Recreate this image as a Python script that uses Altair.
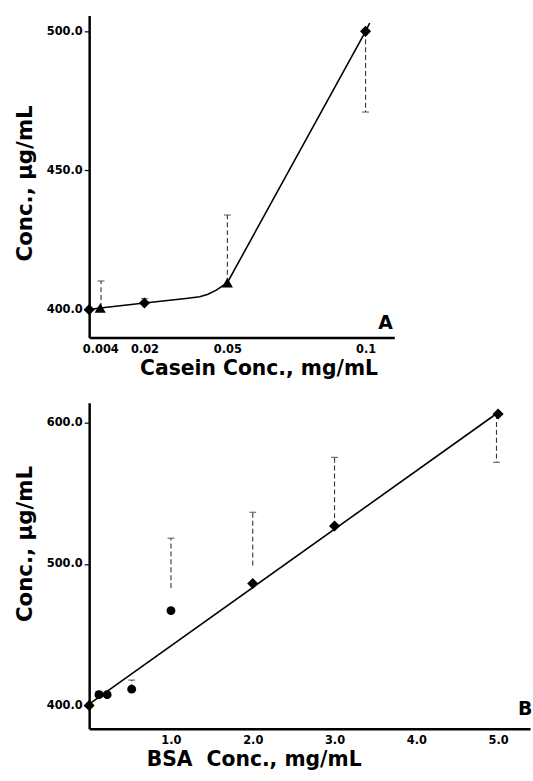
import altair as alt
import pandas as pd

# ---------------- Panel A (casein) ----------------
casein_x = [0.0, 0.004, 0.02, 0.05, 0.1]
casein_y = [400.0, 400.6, 402.4, 409.7, 500.0]
casein_shape = ["diamond", "triangle-up", "diamond", "triangle-up", "diamond"]

casein_err_x = [0.0043, 0.02, 0.05, 0.1]
casein_err_from = [400.6, 402.4, 409.7, 500.0]
casein_err_to = [410.3, 404.0, 434.0, 471.0]

casein_fit_x = [0.0, 0.004, 0.02, 0.035, 0.04, 0.043, 0.046, 0.05, 0.1, 0.1015]
casein_fit_y = [400.0, 400.6, 402.4, 404.0, 404.6, 405.5, 407.0, 409.7, 500.0, 503.0]

# ---------------- Panel B (BSA) ----------------
bsa_x = [0.0, 0.12, 0.22, 0.52, 1.0, 2.0, 3.0, 5.0]
bsa_y = [400.0, 407.7, 407.7, 411.6, 467.1, 486.2, 526.8, 605.9]
bsa_shape = ["diamond", "circle", "circle", "circle", "circle", "diamond", "diamond", "diamond"]

bsa_err_x = [0.12, 0.52, 1.0, 2.0, 3.0, 4.98]
bsa_err_from = [407.7, 411.6, 483.0, 499.0, 526.8, 605.9]
bsa_err_to = [410.0, 418.0, 518.2, 536.5, 575.3, 571.8]

bsa_fit_x = [0.0, 5.0]
bsa_fit_y = [401.0, 607.0]

panel_text = ["A", "B"]
panel_x = [0.1072, 5.33]
panel_y = [395.0, 397.5]

FONT = "DejaVu Sans"

pts_a = pd.DataFrame({"x": casein_x, "y": casein_y, "shape": casein_shape})
err_a = pd.DataFrame({"x": casein_err_x, "y": casein_err_from, "y2": casein_err_to})
fit_a = pd.DataFrame({"x": casein_fit_x, "y": casein_fit_y})
lab_a = pd.DataFrame({"x": [panel_x[0]], "y": [panel_y[0]], "t": [panel_text[0]]})

pts_b = pd.DataFrame({"x": bsa_x, "y": bsa_y, "shape": bsa_shape})
err_b = pd.DataFrame({"x": bsa_err_x, "y": bsa_err_from, "y2": bsa_err_to})
fit_b = pd.DataFrame({"x": bsa_fit_x, "y": bsa_fit_y})
lab_b = pd.DataFrame({"x": [panel_x[1]], "y": [panel_y[1]], "t": [panel_text[1]]})


def panel(pts, err, fit, lab, xdom, ydom, xticks, xfmt, yticks, xtitle, ytitle,
          w, h, title_x, title_y_pos):
    xs = alt.Scale(domain=xdom, nice=False, zero=False)
    ys = alt.Scale(domain=ydom, nice=False, zero=False)
    xax = alt.Axis(values=xticks, format=xfmt, title=xtitle, grid=False,
                   ticks=False, domainWidth=2.5, domainColor="black",
                   labelFont=FONT, labelFontSize=11.5, labelFontWeight="bold",
                   labelColor="black", labelPadding=6, labelFlush=False,
                   titleFont=FONT, titleFontSize=20.5, titleFontWeight="bold",
                   titleColor="black", titleX=title_x, titlePadding=4)
    yax = alt.Axis(values=yticks, format=".1f", title=ytitle, grid=False,
                   tickSize=5, tickColor="black", tickWidth=1.2,
                   domainWidth=2.5, domainColor="black",
                   labelFont=FONT, labelFontSize=11.5, labelFontWeight="bold",
                   labelColor="black",
                   labelPadding=2, titleFont=FONT, titleFontSize=21.5,
                   titleFontWeight="bold", titleColor="black", titlePadding=10,
                   titleY=title_y_pos)
    base_x = alt.X("x:Q", scale=xs, axis=xax)
    base_y = alt.Y("y:Q", scale=ys, axis=yax)

    fit_line = alt.Chart(fit).mark_line(color="black", strokeWidth=1.6,
                                        interpolate="linear").encode(
        x=base_x, y=base_y)
    bars = alt.Chart(err).mark_rule(color="#333", strokeWidth=1.1,
                                    strokeDash=[5, 3]).encode(
        x=alt.X("x:Q", scale=xs), y=alt.Y("y:Q", scale=ys), y2="y2:Q")
    caps = alt.Chart(err).mark_tick(color="#333", thickness=1.2, size=7,
                                    orient="horizontal").encode(
        x=alt.X("x:Q", scale=xs), y=alt.Y("y2:Q", scale=ys))
    points = alt.Chart(pts).mark_point(filled=True, color="black", opacity=1).encode(
        x=alt.X("x:Q", scale=xs), y=alt.Y("y:Q", scale=ys),
        shape=alt.Shape("shape:N", scale=None, legend=None),
        size=alt.condition(alt.datum.shape == "circle", alt.value(80), alt.value(125)))
    label = alt.Chart(lab).mark_text(font=FONT, fontSize=19, fontWeight="bold",
                                     color="black", align="center",
                                     baseline="middle").encode(
        x=alt.X("x:Q", scale=xs), y=alt.Y("y:Q", scale=ys), text="t:N")
    return alt.layer(fit_line, bars, caps, points, label).properties(
        width=w, height=h)


chart_a = panel(pts_a, err_a, fit_a, lab_a, [0, 0.1104], [390.0, 505.7],
                [0.004, 0.02, 0.05, 0.1], "~g", [400, 450, 500],
                "Casein Conc., mg/mL", "Conc., µg/mL", 308, 325, 171, 169)

chart_b = panel(pts_b, err_b, fit_b, lab_b, [0, 5.39], [383.6, 613.8],
                [1, 2, 3, 4, 5], ".1f", [400, 500, 600],
                "BSA\u00a0\u00a0Conc., mg/mL", "Conc., µg/mL", 445, 329, 166, 142)

chart = alt.vconcat(chart_a, chart_b, spacing=66, bounds="flush").properties(
    padding={"left": 14, "top": 12, "right": 0, "bottom": 0},
    background="white"
).configure_view(stroke=None, strokeWidth=0)

chart.save("out.html", embed_options={"renderer": "svg", "actions": False})
